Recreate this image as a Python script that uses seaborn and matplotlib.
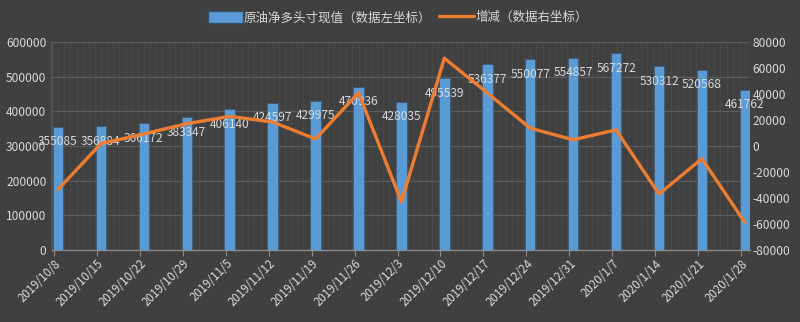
import numpy as np
import pandas as pd
import matplotlib
matplotlib.use("Agg")
import matplotlib.pyplot as plt
from matplotlib.lines import Line2D
from matplotlib.patches import Patch
import seaborn as sns

# Weekly dates
dates = ["2019/10/8", "2019/10/15", "2019/10/22", "2019/10/29", "2019/11/5",
         "2019/11/12", "2019/11/19", "2019/11/26", "2019/12/3", "2019/12/10",
         "2019/12/17", "2019/12/24", "2019/12/31", "2020/1/7", "2020/1/14",
         "2020/1/21", "2020/1/28"]
# Crude oil net long position (left axis)
net_long = [355085, 356884, 366172, 383347, 406140, 424597, 429975, 470936,
            428035, 495539, 536377, 550077, 554857, 567272, 530312, 520568,
            461762]
# Week-on-week change (right axis)
change = [-33500, 1799, 9288, 17175, 22793, 18457, 5378, 40961, -42901,
          67504, 40838, 13700, 4780, 12415, -36960, -9744, -58806]

left_ticks = [0, 100000, 200000, 300000, 400000, 500000, 600000]
right_ticks = [-80000, -60000, -40000, -20000, 0, 20000, 40000, 60000, 80000]

bar_name = "原油净多头寸现值（数据左坐标）"
line_name = "增减（数据右坐标）"

BG = "#404040"
TXT = "#d9d9d9"
BLUE = "#5b9bd5"
ORANGE = "#ed7d31"

sns.set_theme(style="dark")
plt.rcParams["font.family"] = ["Noto Sans CJK SC", "DejaVu Sans"]
plt.rcParams["axes.unicode_minus"] = False

df = pd.DataFrame({"date": dates, "net_long": net_long, "change": change})
df["pos"] = np.arange(len(df))

fig = plt.figure(figsize=(8.0, 3.22), dpi=100, facecolor=BG)
ax = fig.add_axes([0.065, 0.2236, 0.8725, 0.6460])
ax.set_facecolor(BG)

sns.barplot(data=df, x="date", y="net_long", color=BLUE, width=0.245,
            saturation=1, ax=ax, zorder=3, edgecolor="#35506b", linewidth=0.4)

n = len(dates)
ax.set_xlim(-0.14, n - 1 + 0.12)
ax.set_ylim(0, 600000)
ax.set_yticks(left_ticks)
ax.set_yticklabels([str(v) for v in left_ticks])

# faint daily lines and horizontal grid
for d in np.arange(-0.14, n, 1 / 7):
    ax.axvline(d, color="#4a4a4a", lw=0.6, zorder=1)
for v in left_ticks[1:]:
    ax.axhline(v, color="#5c5c5c", lw=0.9, zorder=2)

ax.set_xlabel("")
ax.set_ylabel("")
ax.tick_params(axis="y", colors=TXT, labelsize=8.6, length=0, pad=4)
ax.tick_params(axis="x", colors="#8c8c8c", labelcolor=TXT, labelsize=8.3,
               length=4, width=0.8, direction="out", bottom=True, pad=1)
ax.set_xticks(np.arange(n) - 0.09)
ax.set_xticklabels(dates, rotation=45, ha="right", rotation_mode="anchor")
for s in ["top", "right"]:
    ax.spines[s].set_visible(False)
ax.spines["left"].set_color("#555555")
ax.spines["bottom"].set_color("#8c8c8c")
ax.spines["bottom"].set_linewidth(1.0)

for i, v in enumerate(net_long):
    ax.annotate(str(v), (i, v), xytext=(0, -15), textcoords="offset pixels",
                ha="center", va="center", color=TXT, fontsize=8.6, zorder=4)

ax2 = ax.twinx()
sns.lineplot(data=df, x="pos", y="change", color=ORANGE, linewidth=2.4,
             ax=ax2, zorder=5)
ax2.set_ylim(-80000, 80000)
ax2.set_yticks(right_ticks)
ax2.set_yticklabels([str(v) for v in right_ticks])
ax2.set_ylabel("")
ax2.set_xlabel("")
ax2.tick_params(axis="y", colors=TXT, labelsize=8.6, length=0, pad=2)
for s in ["top", "right", "left", "bottom"]:
    ax2.spines[s].set_visible(False)
ax2.grid(False)
ax2.set_xlim(ax.get_xlim())

handles = [Patch(facecolor=BLUE, edgecolor="#35506b", label=bar_name),
           Line2D([0], [0], color=ORANGE, lw=2.4, label=line_name)]
fig.legend(handles=handles, loc="center", bbox_to_anchor=(0.497, 0.945),
           ncol=2, frameon=False, fontsize=9, labelcolor=TXT,
           handlelength=2.8, handleheight=1.0, handletextpad=0.1,
           columnspacing=0.6)

fig.savefig("out.png", dpi=100, facecolor=BG)
